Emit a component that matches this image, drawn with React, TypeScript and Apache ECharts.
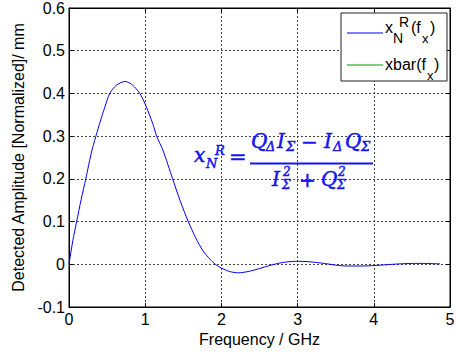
import React, { useEffect, useRef } from "react";
import * as echarts from "echarts";

const freqGHz = [0, 0.01, 0.05, 0.1, 0.16, 0.22, 0.3, 0.406, 0.47, 0.535, 0.62, 0.733, 0.8, 0.86, 0.93, 1.0, 1.1, 1.15, 1.235, 1.36, 1.46, 1.565, 1.66, 1.76, 1.85, 1.92, 2.0, 2.11, 2.22, 2.35, 2.5, 2.65, 2.8, 2.97, 3.15, 3.35, 3.5, 3.65, 3.85, 4.0, 4.17, 4.34, 4.5, 4.65, 4.87];
const amplitude = [0, 0.012, 0.055, 0.1, 0.152, 0.2, 0.266, 0.332, 0.368, 0.4, 0.419, 0.428, 0.424, 0.415, 0.4, 0.375, 0.329, 0.3, 0.266, 0.2, 0.148, 0.1, 0.063, 0.031, 0.012, 0, -0.009, -0.017, -0.02, -0.017, -0.01, -0.002, 0.004, 0.007, 0.006, 0.002, -0.002, -0.004, -0.004, -0.003, -0.001, 0.001, 0.002, 0.002, 0.001];
const xbarValues: number[] = [];

const seriesNames = ["xNR(fx)", "xbar(fx)"];
const xTicks = { min: 0, max: 5, interval: 1 };
const yTicks = { min: -0.1, max: 0.6, interval: 0.1 };

const BLUE = "#0000ff";
const GREEN = "#00a000";
const FORM = "#1515f0";
const SERIF = '"DejaVu Serif"';
const SANS = '"Liberation Sans"';

function txt(text: string, x: number, y: number, font: string, fill: string, bold = 0) {
  return {
    type: "text",
    x,
    y,
    z: 100,
    style: {
      text,
      font,
      fill,
      stroke: bold ? fill : undefined,
      lineWidth: bold,
      textAlign: "left",
      textVerticalAlign: "middle",
      verticalAlign: "middle",
    },
  };
}

export default function App() {
  const ref = useRef<HTMLDivElement>(null);
  useEffect(() => {
    if (!ref.current) return;
    const chart = echarts.init(ref.current, undefined, { renderer: "svg" });
    const mi = (s: number) => `italic ${s}px ${SERIF}`;
    const mr = (s: number) => `${s}px ${SERIF}`;
    const ls = (s: number) => `${s}px ${SANS}`;
    const f = (text: string, x: number, y: number, font: string) => txt(text, x, y, font, FORM, 0.5);
    const graphic: any[] = [
      // legend box
      {
        type: "rect",
        z: 99,
        shape: { x: 341, y: 13, width: 106, height: 68 },
        style: { fill: "#fff", stroke: "#222", lineWidth: 1 },
      },
      { type: "line", z: 100, shape: { x1: 347, y1: 33, x2: 383, y2: 33 }, style: { stroke: BLUE, lineWidth: 1 } },
      { type: "line", z: 100, shape: { x1: 347, y1: 65, x2: 383, y2: 65 }, style: { stroke: GREEN, lineWidth: 1 } },
      txt("x", 385, 27.4, ls(16), "#000"),
      txt("N", 393, 38, ls(14), "#000"),
      txt("R", 399, 22, ls(14), "#000"),
      txt("(f", 411, 27.4, ls(16), "#000"),
      txt("x", 422, 38, ls(13), "#000"),
      txt(")", 430, 27.4, ls(16), "#000"),
      txt("xbar(f", 385, 64.4, ls(16), "#000"),
      txt("x", 427, 75, ls(13), "#000"),
      txt(")", 434, 64.4, ls(16), "#000"),
      // formula
      f("x", 194, 155, mi(20)),
      f("N", 206, 163, mi(13)),
      f("R", 215, 150.5, mi(13)),
      f("=", 229, 157, mr(21)),
      { type: "line", z: 100, shape: { x1: 250, y1: 163.5, x2: 373, y2: 163.5 }, style: { stroke: FORM, lineWidth: 2 } },
      f("Q", 251, 141, mi(20)),
      f("Δ", 266, 146.5, mi(13)),
      f("I", 277, 141, mi(20)),
      f("Σ", 286, 146.5, mi(13)),
      f("−", 301, 141.5, mr(20)),
      f("I", 324, 141, mi(20)),
      f("Δ", 333, 146.5, mi(13)),
      f("Q", 345, 141, mi(20)),
      f("Σ", 361, 146.5, mi(13)),
      f("I", 272, 179, mi(20)),
      f("2", 283, 172, mi(12)),
      f("Σ", 282, 185, mi(12)),
      f("+", 299, 179.5, mr(20)),
      f("Q", 321, 179, mi(20)),
      f("2", 338, 172, mi(12)),
      f("Σ", 337, 185, mi(12)),
    ];
    const gridLine = { show: true, lineStyle: { color: "#444", type: [2, 2], width: 1 } };
    const tick = { show: true, inside: true, length: 4, lineStyle: { color: "#000" } };
    const line = { show: true, onZero: false, lineStyle: { color: "#000" } };
    chart.setOption({
      animation: false,
      backgroundColor: "#fff",
      grid: { left: 69, top: 8, width: 381, height: 299, show: true, borderColor: "#000", borderWidth: 1, containLabel: false },
      xAxis: [
        {
          type: "value",
          ...xTicks,
          name: "Frequency / GHz",
          nameLocation: "middle",
          nameGap: 22,
          nameTextStyle: { fontFamily: SANS, fontSize: 16, color: "#000", verticalAlign: "top" },
          axisLine: line,
          axisTick: tick,
          axisLabel: { fontFamily: SANS, fontSize: 16, color: "#000", margin: 4 },
          splitLine: gridLine,
        },
        {
          type: "value",
          position: "top",
          ...xTicks,
          axisLine: line,
          axisTick: tick,
          axisLabel: { show: false },
          splitLine: { show: false },
        },
      ],
      yAxis: [
        {
          type: "value",
          ...yTicks,
          name: "Detected Amplitude [Normalized]/ mm",
          nameLocation: "middle",
          nameGap: 40,
          nameRotate: 90,
          nameTextStyle: { fontFamily: SANS, fontSize: 16, color: "#000" },
          axisLine: line,
          axisTick: tick,
          axisLabel: { fontFamily: SANS, fontSize: 16, color: "#000", margin: 4 },
          splitLine: gridLine,
        },
        {
          type: "value",
          position: "right",
          ...yTicks,
          axisLine: line,
          axisTick: tick,
          axisLabel: { show: false },
          splitLine: { show: false },
        },
      ],
      series: [
        {
          name: seriesNames[0],
          type: "line",
          xAxisIndex: 0,
          yAxisIndex: 0,
          data: freqGHz.map((fq, i) => [fq, amplitude[i]]),
          showSymbol: false,
          symbol: "none",
          smooth: 0.25,
          lineStyle: { color: BLUE, width: 1 },
          z: 5,
        },
        {
          name: seriesNames[1],
          type: "line",
          xAxisIndex: 0,
          yAxisIndex: 0,
          data: xbarValues,
          symbol: "none",
          lineStyle: { color: GREEN, width: 1 },
        },
      ],
      graphic,
    });
    return () => chart.dispose();
  }, []);
  return <div ref={ref} style={{ position: "absolute", left: 0, top: 0, width: 458, height: 355 }} />;
}
